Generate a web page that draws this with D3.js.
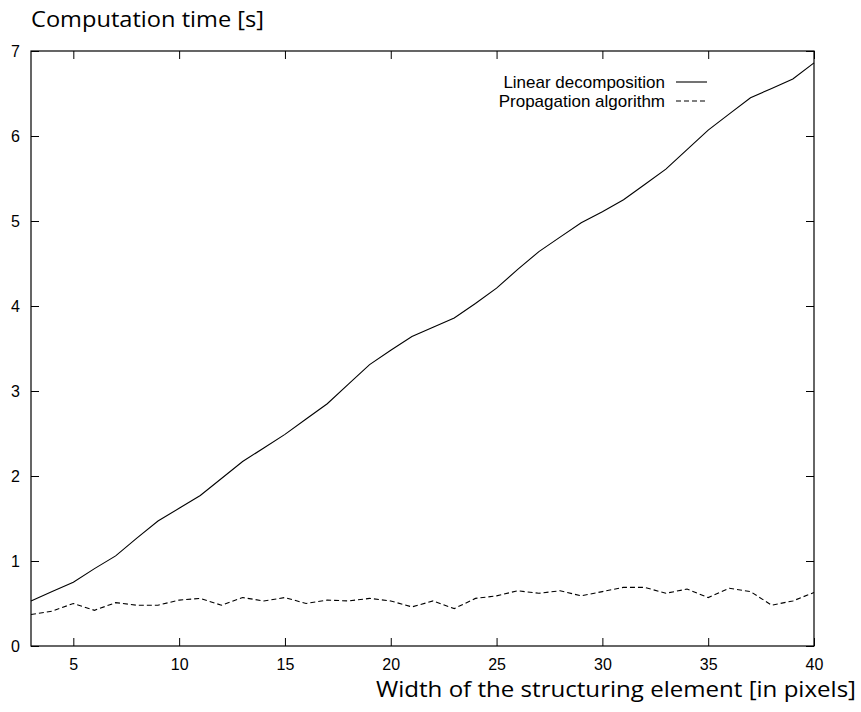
<!DOCTYPE html>
<html lang="en">
<head>
<meta charset="UTF-8">
<title>Computation time</title>
<style>
  body { margin: 0; background: #fff; }
  .tick text { font-family: "Liberation Sans", Arial, sans-serif; font-size: 16px; fill: #000; }
  .tick line { stroke: #000; stroke-width: 1px; }
  .serie { fill: none; stroke: #000; stroke-width: 1.1px; }
  .titulo { font-family: "Open Sans", "DejaVu Sans", sans-serif; font-size: 22px; fill: #000; }
  .leyenda { font-family: "Liberation Sans", Arial, sans-serif; font-size: 17px; fill: #000; }
</style>
<script src="https://d3js.org/d3.v7.min.js"></script>
</head>
<body>
<script>
// anchura del elemento estructurante (pixeles)
var anchos = d3.range(3, 41);

// tiempos
var lineal = [0.53, 0.64, 0.75, 0.91, 1.06, 1.27, 1.47, 1.62, 1.77, 1.97,
              2.17, 2.33, 2.49, 2.67, 2.85, 3.08, 3.31, 3.48, 3.64, 3.75,
              3.86, 4.03, 4.21, 4.43, 4.64, 4.81, 4.98, 5.11, 5.25, 5.43,
              5.61, 5.84, 6.07, 6.26, 6.45, 6.56, 6.67, 6.86];
var propagacion = [0.37, 0.41, 0.50, 0.42, 0.51, 0.48, 0.48, 0.54, 0.56, 0.48,
                   0.57, 0.53, 0.57, 0.50, 0.54, 0.53, 0.56, 0.53, 0.46, 0.53,
                   0.44, 0.56, 0.59, 0.65, 0.62, 0.65, 0.59, 0.64, 0.69, 0.69,
                   0.62, 0.67, 0.57, 0.68, 0.64, 0.48, 0.53, 0.63];

var ticks_x = [5, 10, 15, 20, 25, 30, 35, 40];
var ticks_y = [0, 1, 2, 3, 4, 5, 6, 7];
var nombres = ["Linear decomposition", "Propagation algorithm"];

var ancho_svg = 861, alto_svg = 712;
var margen = {sup: 51, izq: 31, dch: 47, inf: 66};
var ancho = ancho_svg - margen.izq - margen.dch,
    alto = alto_svg - margen.sup - margen.inf;

var svg = d3.select("body").append("svg")
    .attr("width", ancho_svg)
    .attr("height", alto_svg);

var g = svg.append("g")
    .attr("transform", "translate(" + margen.izq + "," + margen.sup + ")");

var x = d3.scaleLinear().domain([3, 40]).range([0, ancho]);
var y = d3.scaleLinear().domain([0, 7]).range([alto, 0]);

// ejes con marcas hacia dentro (estilo gnuplot)
g.append("g").attr("transform", "translate(0," + alto + ")")
  .call(d3.axisBottom(x).tickValues(ticks_x).tickSizeInner(-8).tickSizeOuter(0).tickPadding(13).tickFormat(d3.format("d")))
  .call(function(s){ s.select(".domain").remove(); });
g.append("g")
  .call(d3.axisTop(x).tickValues(ticks_x).tickSizeInner(-8).tickSizeOuter(0).tickFormat(""))
  .call(function(s){ s.select(".domain").remove(); });
g.append("g")
  .call(d3.axisLeft(y).tickValues(ticks_y).tickSizeInner(-8).tickSizeOuter(0).tickPadding(11).tickFormat(d3.format("d")))
  .call(function(s){ s.select(".domain").remove(); });
g.append("g").attr("transform", "translate(" + ancho + ",0)")
  .call(d3.axisRight(y).tickValues(ticks_y).tickSizeInner(-8).tickSizeOuter(0).tickFormat(""))
  .call(function(s){ s.select(".domain").remove(); });

g.append("rect")
  .attr("width", ancho).attr("height", alto)
  .attr("fill", "none").attr("stroke", "#000").attr("stroke-width", 1.2);

var linea = d3.line()
  .x(function(d, i){ return x(anchos[i]); })
  .y(function(d){ return y(d); });

g.append("path").datum(lineal).attr("class", "serie").attr("d", linea);
g.append("path").datum(propagacion).attr("class", "serie")
  .attr("stroke-dasharray", "5,3").attr("d", linea);

// leyenda
var ley = g.append("g").attr("transform", "translate(" + (x(40) - 149) + ",31)");
nombres.forEach(function(n, i){
  var fila = ley.append("g").attr("transform", "translate(0," + (i * 19) + ")");
  fila.append("text").attr("class", "leyenda").attr("x", 0).attr("dy", "0.35em")
    .attr("text-anchor", "end").text(n);
  fila.append("line").attr("x1", 11).attr("x2", 42).attr("y1", 0).attr("y2", 0)
    .attr("stroke", "#000").attr("stroke-width", 1.1)
    .attr("stroke-dasharray", i ? "5,3" : null);
});

// titulos de los ejes
svg.append("text").attr("class", "titulo").attr("x", 31).attr("y", 27)
  .attr("textLength", 233).attr("lengthAdjust", "spacingAndGlyphs")
  .text("Computation time [s]");
svg.append("text").attr("class", "titulo").attr("x", 376).attr("y", 697)
  .attr("textLength", 480).attr("lengthAdjust", "spacingAndGlyphs")
  .text("Width of the structuring element [in pixels]");
</script>
</body>
</html>
